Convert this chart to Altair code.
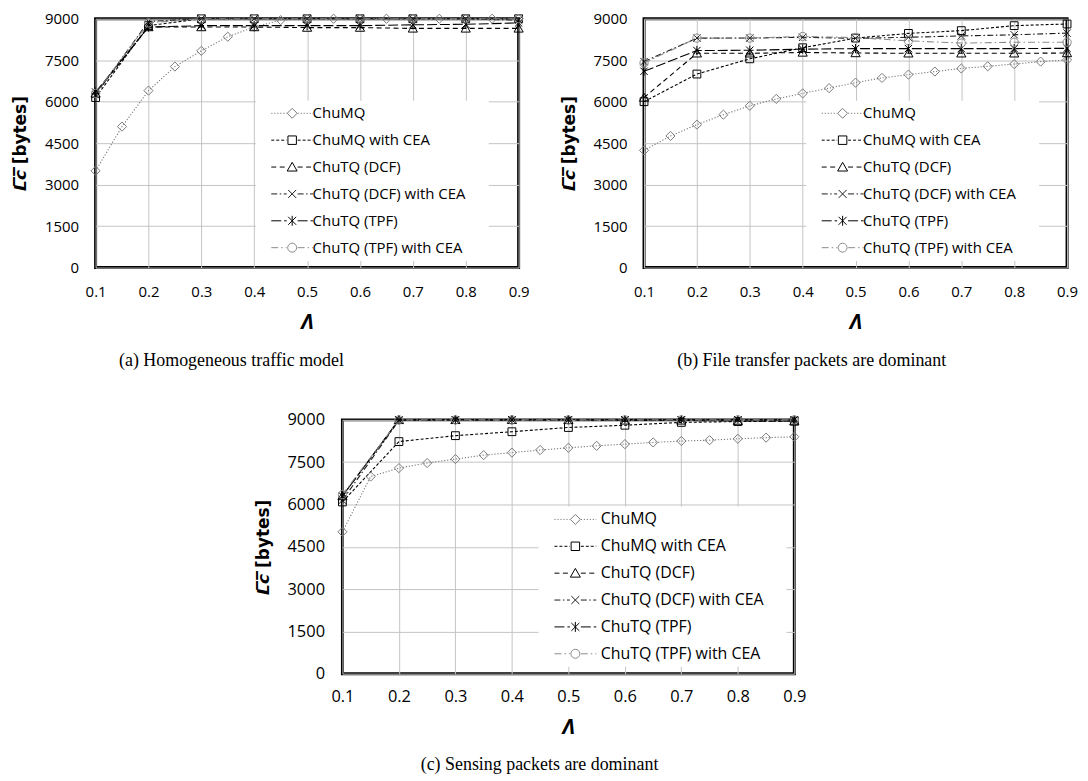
import altair as alt
import pandas as pd

# ---------------- data ----------------
SERIES = ["ChuMQ", "ChuMQ with CEA", "ChuTQ (DCF)", "ChuTQ (DCF) with CEA",
          "ChuTQ (TPF)", "ChuTQ (TPF) with CEA"]
LAMBDA_FINE = [0.1, 0.15, 0.2, 0.25, 0.3, 0.35, 0.4, 0.45, 0.5, 0.55, 0.6,
               0.65, 0.7, 0.75, 0.8, 0.85, 0.9]
LAMBDA = [0.1, 0.2, 0.3, 0.4, 0.5, 0.6, 0.7, 0.8, 0.9]
X_TICKS = [0.1, 0.2, 0.3, 0.4, 0.5, 0.6, 0.7, 0.8, 0.9]
Y_TICKS = [0, 1500, 3000, 4500, 6000, 7500, 9000]

# (a) Homogeneous traffic model
A_CHUMQ = [3500, 5100, 6400, 7270, 7840, 8350, 8700, 8950, 9000, 9000, 9000,
           9000, 9000, 9000, 9000, 9000, 9000]
A_CHUMQ_CEA = [6150, 8750, 9000, 9000, 9000, 9000, 9000, 9000, 9000]
A_DCF = [6300, 8700, 8700, 8700, 8680, 8680, 8650, 8650, 8650]
A_DCF_CEA = [6250, 8900, 9000, 9000, 9000, 9000, 9000, 9000, 8950]
A_TPF = [6350, 8700, 8750, 8750, 8750, 8750, 8780, 8800, 8850]
A_TPF_CEA = [6300, 8850, 9000, 9000, 9000, 9000, 9000, 9000, 9000]

# (b) File transfer packets are dominant
B_CHUMQ = [4240, 4760, 5170, 5530, 5850, 6100, 6300, 6490, 6690, 6860, 6980,
           7090, 7200, 7280, 7360, 7450, 7510]
B_CHUMQ_CEA = [6000, 7000, 7550, 7950, 8300, 8470, 8570, 8750, 8810]
B_DCF = [6150, 7750, 7750, 7780, 7760, 7750, 7750, 7750, 7760]
B_DCF_CEA = [7450, 8300, 8300, 8330, 8290, 8330, 8380, 8420, 8480]
B_TPF = [7100, 7850, 7860, 7900, 7920, 7920, 7920, 7920, 7930]
B_TPF_CEA = [7400, 8300, 8300, 8360, 8320, 8200, 8120, 8150, 8150]

# (c) Sensing packets are dominant
C_CHUMQ = [5030, 6990, 7290, 7470, 7610, 7750, 7840, 7930, 8010, 8080, 8140,
           8200, 8250, 8280, 8330, 8370, 8400]
C_CHUMQ_CEA = [6090, 8230, 8440, 8580, 8730, 8810, 8910, 8940, 8960]
C_DCF = [6300, 9000, 9000, 9000, 9000, 8980, 8980, 8960, 8950]
C_DCF_CEA = [6150, 8980, 9000, 9000, 9000, 9000, 9000, 9000, 9000]
C_TPF = [6300, 9000, 9000, 9000, 9000, 9000, 9000, 9000, 9000]
C_TPF_CEA = [6350, 9000, 9000, 9000, 9000, 9000, 9000, 9000, 9000]

CAPTIONS = ["(a) Homogeneous traffic model",
            "(b) File transfer packets are dominant",
            "(c) Sensing packets are dominant"]
Y_TITLE = "\U0001D647\u0305\U0001D658\u0305 [bytes]"

# ---------------- styles ----------------
COLORS = ["#7a7a7a", "#000000", "#000000", "#1a1a1a", "#000000", "#8a8a8a"]
DASHES = [[1.2, 1.8], [3, 2], [5, 3.5], [6, 2.5, 1.5, 2.5], [10, 3], [7, 3, 1.5, 3]]
WIDTHS = [1.1, 1.1, 1.1, 1.1, 1.5, 1.1]

M_DIAMOND = "M0,-1L1,0L0,1L-1,0Z"
M_SQUARE = "M-0.85,-0.85L0.85,-0.85L0.85,0.85L-0.85,0.85Z"
M_TRIANGLE = "M0,-0.95L1,0.8L-1,0.8Z"
M_X = "M-0.8,-0.8L0.8,0.8M-0.8,0.8L0.8,-0.8"
M_STAR = "M-0.8,-0.8L0.8,0.8M-0.8,0.8L0.8,-0.8M0,-1L0,1"
M_CIRCLE = "M0.9,0A0.9,0.9,0,1,1,-0.9,0A0.9,0.9,0,1,1,0.9,0Z"
MARKERS = [M_DIAMOND, M_SQUARE, M_TRIANGLE, M_X, M_STAR, M_CIRCLE]


def seg(a, b, pat):
    out, x, i = [], a, 0
    while x < b - 1e-6:
        ln = pat[i % len(pat)]
        if i % 2 == 0:
            out.append(f"M{x:.3f},0L{min(x + ln, b):.3f},0")
        x += ln
        i += 1
    return "".join(out)


def legend_path(marker, dash_px, unit=5.0, half=4.2, gap=1.1):
    pat = [d / unit for d in dash_px]
    return seg(-half, -gap, pat) + seg(gap, half, pat) + marker


LEGEND_PATHS = [legend_path(m, d) for m, d in zip(MARKERS, DASHES)]


def make_df(series_vals):
    rows = []
    for name, vals in zip(SERIES, series_vals):
        xs = LAMBDA_FINE if len(vals) == len(LAMBDA_FINE) else LAMBDA
        for xv, yv in zip(xs, vals):
            rows.append({"series": name, "lam": xv, "val": yv})
    return pd.DataFrame(rows)


def panel(series_vals, caption, dx, w, h, fs, lfs, leg_x, leg_y, sym_off,
          lab_off, row_pad, ylab_pad, xlab_pad, cap_off):
    df = make_df(series_vals)
    base = alt.Chart(df)
    x = alt.X("lam:Q",
              scale=alt.Scale(domain=[0.1, 0.9], nice=False, zero=False),
              axis=alt.Axis(values=X_TICKS, format=".1f", title="Λ",
                            labelFontSize=fs, labelPadding=xlab_pad,
                            titleFontSize=21, titleFontStyle="italic",
                            titlePadding=12, labelFlush=False))
    y = alt.Y("val:Q",
              scale=alt.Scale(domain=[0, 9000], nice=False),
              axis=alt.Axis(values=Y_TICKS, format="d", title=Y_TITLE,
                            labelFontSize=fs, labelPadding=ylab_pad,
                            titleFont="DejaVu Sans", titleFontSize=17,
                            titlePadding=15))
    cscale = alt.Scale(domain=SERIES, range=COLORS)
    lines = base.mark_line(opacity=1).encode(
        x=x, y=y,
        color=alt.Color("series:N", scale=cscale, legend=None),
        strokeDash=alt.StrokeDash("series:N",
                                  scale=alt.Scale(domain=SERIES, range=DASHES),
                                  legend=None),
        strokeWidth=alt.StrokeWidth("series:N",
                                    scale=alt.Scale(domain=SERIES, range=WIDTHS),
                                    legend=None),
    )
    points = base.mark_point(filled=False, size=85, opacity=1,
                             strokeWidth=1).encode(
        x=x, y=y,
        color=alt.Color("series:N", scale=cscale, legend=None),
        shape=alt.Shape("series:N",
                        scale=alt.Scale(domain=SERIES, range=MARKERS),
                        legend=None),
    )
    leg_kwargs = dict(orient="none", legendX=leg_x, legendY=leg_y,
                      fillColor="white", padding=5, rowPadding=row_pad,
                      symbolOffset=sym_off, labelOffset=lab_off,
                      labelFont="Open Sans", labelFontSize=lfs,
                      labelColor="black", labelLimit=400, symbolSize=100,
                      symbolStrokeWidth=1, title="\u00a0",
                      titleOrient="right", titlePadding=18,
                      titleFontSize=lfs)
    leg = base.transform_filter("false").mark_point(
        filled=False, size=100, opacity=1, strokeWidth=1).encode(
        x=x, y=y,
        shape=alt.Shape("series:N",
                        scale=alt.Scale(domain=SERIES, range=LEGEND_PATHS),
                        legend=alt.Legend(**leg_kwargs)),
        color=alt.Color("series:N", scale=cscale,
                        legend=alt.Legend(**leg_kwargs)),
    )
    return alt.layer(lines, points, leg).resolve_scale(
        shape="independent", color="independent"
    ).properties(
        width=w, height=h,
        title=alt.TitleParams(caption, orient="bottom", anchor="middle",
                              font="Liberation Serif", fontSize=18,
                              fontWeight="normal", color="black",
                              offset=cap_off, dx=dx),
    )


pa = panel([A_CHUMQ, A_CHUMQ_CEA, A_DCF, A_DCF_CEA, A_TPF, A_TPF_CEA],
           CAPTIONS[0], -76, 425, 250, 15, 15, 161, 82.5, 24, 13, 11.0,
           17, 17, 20)
pb = panel([B_CHUMQ, B_CHUMQ_CEA, B_DCF, B_DCF_CEA, B_TPF, B_TPF_CEA],
           CAPTIONS[1], -44, 425, 250, 15, 15, 163, 82.5, 24, 13, 11.0,
           17, 17, 20)
pc = panel([C_CHUMQ, C_CHUMQ_CEA, C_DCF, C_DCF_CEA, C_TPF, C_TPF_CEA],
           CAPTIONS[2], -29, 454, 255, 16.5, 16, 197, 87, 24, 17.5, 11,
           18, 15, 18)

spacer = alt.Chart(pd.DataFrame({"v": [0]})).mark_point(opacity=0).encode(
    x=alt.value(0), y=alt.value(0)
).properties(width=135, height=1, view=alt.ViewBackground(stroke="transparent"))

top = alt.hconcat(pa, pb, spacing=27)
bottom = alt.hconcat(spacer, pc, spacing=20)

chart = alt.vconcat(top, bottom, spacing=38).properties(
    padding={"left": 2, "top": 0, "right": 0, "bottom": 0}
).configure(font="Open Sans").configure_view(
    stroke="black", strokeWidth=3
).configure_axis(
    domain=False, ticks=False, grid=True, gridColor="#c4c4c4", gridWidth=1,
    labelFont="Open Sans", labelColor="black", titleColor="black",
    titleFont="Open Sans", titleFontWeight="bold"
)

chart.save("out.html", embed_options={"renderer": "svg", "actions": False})
